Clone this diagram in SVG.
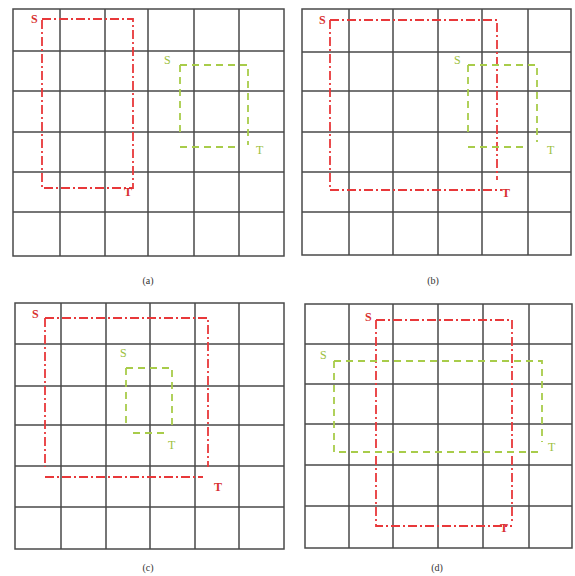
<svg xmlns="http://www.w3.org/2000/svg" width="575" height="576" viewBox="0 0 575 576">
<style>
.grid{fill:none;stroke:#4a4a4a;stroke-width:1.5}
.red{fill:none;stroke:#e8383a;stroke-width:1.8;stroke-dasharray:9 3 2 3}
.green{fill:none;stroke:#a8cc4a;stroke-width:1.8;stroke-dasharray:7 5}
.rt{fill:#d83030;font-family:"Liberation Serif",serif;font-size:12px;font-weight:bold}
.gt{fill:#9cc040;font-family:"Liberation Serif",serif;font-size:12px}
.cap{fill:#333;font-family:"Liberation Serif",serif;font-size:10px;text-anchor:middle}
</style>
<rect width="575" height="576" fill="#fff"/>
<g id="panel-a">
<g class="grid">
<rect x="13" y="9" width="271" height="247"/>
<path d="M60 9V256M105 9V256M148 9V256M194 9V256M239 9V256M13 51H284M13 91H284M13 132H284M13 172H284M13 212H284"/>
</g>
<g id="a-red"><path class="red" d="M42 19H133V188H42Z"/><text class="rt" x="31" y="23">S</text><text class="rt" x="124" y="196">T</text></g>
<g id="a-green"><path class="green" d="M180 65H248V145M180 65V132M180 147H240"/><text class="gt" x="164" y="64">S</text><text class="gt" x="256" y="154">T</text></g>
<text class="cap" x="148" y="284">(a)</text>
</g>
<g id="panel-b">
<g class="grid">
<rect x="302" y="9" width="269" height="246"/>
<path d="M349 9V255M393 9V255M438 9V255M482 9V255M528 9V255M302 52H571M302 91H571M302 132H571M302 172H571M302 212H571"/>
</g>
<g id="b-red"><path class="red" d="M330 20H497V180M330 20V190H502"/><text class="rt" x="319" y="24">S</text><text class="rt" x="502" y="197">T</text></g>
<g id="b-green"><path class="green" d="M468 65H537V142M468 65V132M468 147H523"/><text class="gt" x="454" y="64">S</text><text class="gt" x="547" y="154">T</text></g>
<text class="cap" x="433" y="284">(b)</text>
</g>
<g id="panel-c">
<g class="grid">
<rect x="15" y="303" width="269" height="246"/>
<path d="M61 303V549M106 303V549M150 303V549M195 303V549M239 303V549M15 344H284M15 386H284M15 425H284M15 466H284M15 507H284"/>
</g>
<g id="c-red"><path class="red" d="M45 318H208V467M45 318V467M45 477H203"/><text class="rt" x="32" y="318">S</text><text class="rt" x="214" y="491">T</text></g>
<g id="c-green"><path class="green" d="M126 368H172V425M126 368V428M133 433H167"/><text class="gt" x="120" y="357">S</text><text class="gt" x="168" y="449">T</text></g>
<text class="cap" x="148" y="571">(c)</text>
</g>
<g id="panel-d">
<g class="grid">
<rect x="305" y="304" width="267" height="244"/>
<path d="M349 304V548M393 304V548M438 304V548M483 304V548M529 304V548M305 344H572M305 384H572M305 424H572M305 465H572M305 506H572"/>
</g>
<g id="d-red"><path class="red" d="M376 320H512V522M376 320V526H512"/><text class="rt" x="365" y="321">S</text><text class="rt" x="500" y="532">T</text></g>
<g id="d-green"><path class="green" d="M334 361H542V442M334 361V452H543"/><text class="gt" x="320" y="359">S</text><text class="gt" x="548" y="451">T</text></g>
<text class="cap" x="437" y="571">(d)</text>
</g>
</svg>
